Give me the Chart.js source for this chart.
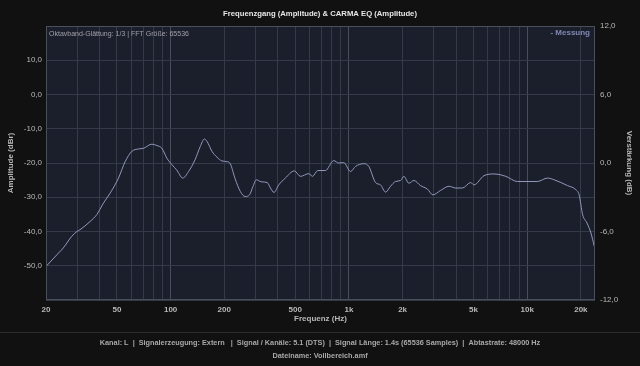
<!DOCTYPE html>
<html>
<head>
<meta charset='utf-8' />
<title>Frequenzgang</title>
<script src="https://cdn.jsdelivr.net/npm/chart.js"></script>
<style>
body { margin:0; padding:0; background:#111111; }
#wrap { width:640px; height:366px; }
</style>
</head>
<body>
<div id="wrap">
  <canvas id="fgChart" width="640" height="366"></canvas>
</div>

<script>

/*************************************************/
/* data                                          */
/*************************************************/

// Frequenz (Hz)
const freqs = [
  20, 23.5, 25, 27.9, 29.8, 31, 35.3, 38.5, 42, 45.8,
  51, 55.6, 60.6, 66, 70.4, 78.5, 83.7, 89.3, 95.3, 101.7,
  108, 117, 126, 137, 146.6, 154.5, 160, 170.6, 182, 194,
  207, 216, 230, 246, 262, 277, 290, 302, 323, 348,
  363, 380, 404, 440, 494, 535, 596, 624, 669, 738,
  822, 877, 936, 1021, 1089, 1214, 1293, 1410, 1505, 1605,
  1712, 1825, 1950, 2033, 2170, 2316, 2520, 2753, 2960, 3268,
  3640, 3970, 4330, 4823, 5025, 5725, 6516, 7584, 8816, 11400,
  13000, 14160, 16830, 18750, 19550, 20460, 21620, 22760, 23770
];

// Messung, Amplitude (dBr)
const messung = [
  -50.2, -46.3, -44.8, -41.4, -40.0, -39.5, -37.1, -35.1, -31.7, -28.8,
  -24.4, -19.6, -16.6, -15.9, -15.7, -14.5, -14.9, -15.7, -18.6, -20.5,
  -22.0, -24.4, -22.5, -19.1, -15.2, -13.0, -13.7, -16.6, -18.3, -19.4,
  -19.6, -20.2, -24.6, -28.3, -29.8, -29.3, -26.8, -24.9, -25.5, -25.7,
  -27.3, -28.6, -26.4, -24.4, -22.3, -23.9, -23.1, -23.9, -22.2, -22.2,
  -19.3, -20.0, -19.9, -22.5, -21.0, -20.2, -21.0, -25.7, -26.4, -28.5,
  -26.8, -25.4, -25.1, -23.9, -25.9, -25.1, -26.6, -27.6, -29.3, -28.0,
  -26.8, -27.3, -27.3, -25.7, -26.4, -23.7, -23.2, -23.9, -25.4, -25.4,
  -24.4, -24.9, -26.6, -27.8, -29.3, -35.1, -37.5, -40.4, -44.3
];

// Gitterlinien der Frequenzachse
const gridFreqs = [
  20, 30, 40, 50, 60, 70, 80, 90,
  100, 200, 300, 400, 500, 600, 700, 800, 900,
  1000, 2000, 3000, 4000, 5000, 6000, 7000, 8000, 9000,
  10000, 20000
];

// beschriftete Frequenzen
const labelFreqs = [20, 50, 100, 200, 500, 1000, 2000, 5000, 10000, 20000];

// Amplitude-Achse (dBr)
const ampTicks = [-60, -50, -40, -30, -20, -10, 0, 10, 20];
const ampLabels = [-50, -40, -30, -20, -10, 0, 10];

// Verstärkung-Achse (dB)
const gainTicks = [-12, -6, 0, 6, 12];

const titleText = 'Frequenzgang (Amplitude) & CARMA EQ (Amplitude)';
const infoText = 'Oktavband-Glättung: 1/3 | FFT Größe: 65536';
const legendText = '- Messung';
const footer1 = 'Kanal: L  |  Signalerzeugung: Extern   |  Signal / Kanäle: 5.1 (DTS)  |  Signal Länge: 1.4s (65536 Samples)  |  Abtastrate: 48000 Hz';
const footer2 = 'Dateiname: Vollbereich.amf';

/*************************************************/
/* styles                                        */
/*************************************************/

const FONT = "'Liberation Sans', Arial, sans-serif";
const textColor = '#b8b8b8';
const gridColor = '#343a48';
const decadeColor = '#474d5a';
const lineColor = '#9298be';
const plotBg = '#1b1f2b';

const fmtNum = v => v.toFixed(1).replace('.', ',');
const fmtFreq = v => v >= 1000 ? (v / 1000) + 'k' : String(v);

/*************************************************/
/* plugins                                       */
/*************************************************/

const decoPlugin = {
  id: 'deco',
  beforeDraw(chart) {
    const { ctx, chartArea: a, width, height } = chart;
    ctx.save();
    ctx.fillStyle = '#111111';
    ctx.fillRect(0, 0, width, height);
    ctx.fillStyle = plotBg;
    ctx.fillRect(a.left, a.top, a.right - a.left, a.bottom - a.top);
    ctx.restore();
  },
  afterDraw(chart) {
    const { ctx, chartArea: a, width } = chart;
    ctx.save();
    // Rahmen
    ctx.strokeStyle = '#4a4f5c';
    ctx.lineWidth = 1;
    ctx.strokeRect(a.left + 0.5, a.top + 0.5, a.right - a.left - 1, a.bottom - a.top - 1);

    // Titel
    ctx.fillStyle = '#e6e6e6';
    ctx.font = 'bold 7.7px ' + FONT;
    ctx.textAlign = 'center';
    ctx.textBaseline = 'middle';
    ctx.fillText(titleText, width / 2, 14);

    // Info oben links
    ctx.fillStyle = '#a0a0a8';
    ctx.font = '7px ' + FONT;
    ctx.textAlign = 'left';
    ctx.fillText(infoText, a.left + 3, 34);

    // Legende
    ctx.fillStyle = '#8088b4';
    ctx.font = 'bold 8px ' + FONT;
    ctx.textAlign = 'right';
    ctx.fillText(legendText, a.right - 5, 33);

    // Achsentitel Frequenz
    ctx.fillStyle = textColor;
    ctx.font = 'bold 8px ' + FONT;
    ctx.textAlign = 'center';
    ctx.fillText('Frequenz (Hz)', (a.left + a.right) / 2, 319);

    // Trennlinie + Fußzeile
    ctx.strokeStyle = '#2c2c2c';
    ctx.beginPath();
    ctx.moveTo(0, 332.5);
    ctx.lineTo(width, 332.5);
    ctx.stroke();
    ctx.fillStyle = '#a8a8a8';
    ctx.font = 'bold 7.3px ' + FONT;
    ctx.fillText(footer1, width / 2, 343);
    ctx.fillText(footer2, width / 2, 356);
    ctx.restore();
  }
};

/*************************************************/
/* chart                                         */
/*************************************************/

const points = freqs.map((f, i) => ({ x: f, y: messung[i] }));

const ctx = document.getElementById('fgChart');

const fgChart = new Chart(ctx, {
  type: 'line',
  data: {
    datasets: [{
      label: 'Messung',
      data: points,
      borderColor: lineColor,
      borderWidth: 1,
      pointRadius: 0,
      cubicInterpolationMode: 'monotone',
      yAxisID: 'y'
    }]
  },
  options: {
    responsive: false,
    animation: false,
    devicePixelRatio: 1,
    layout: { padding: { top: 26, bottom: 40, left: 0, right: 0 } },
    plugins: {
      legend: { display: false },
      title: { display: false },
      tooltip: { enabled: false }
    },
    scales: {
      x: {
        type: 'logarithmic',
        min: 20,
        max: 24000,
        afterBuildTicks: s => { s.ticks = gridFreqs.map(v => ({ value: v })); },
        afterFit: s => { s.height = 26; },
        border: { display: false },
        grid: {
          drawTicks: false,
          color: c => [100, 1000, 10000].includes(c.tick && c.tick.value) ? decadeColor : gridColor
        },
        ticks: {
          autoSkip: false,
          maxRotation: 0,
          padding: 5,
          color: textColor,
          font: { family: FONT, size: 8, weight: 'bold' },
          callback: v => labelFreqs.includes(v) ? fmtFreq(v) : ''
        }
      },
      y: {
        type: 'linear',
        position: 'left',
        min: -60,
        max: 20,
        afterBuildTicks: s => { s.ticks = ampTicks.map(v => ({ value: v })); },
        afterFit: s => { s.width = 46; },
        border: { display: false },
        grid: { drawTicks: false, color: gridColor },
        ticks: {
          padding: 4,
          color: textColor,
          font: { family: FONT, size: 8 },
          callback: v => ampLabels.includes(v) ? fmtNum(v) : ''
        },
        title: {
          display: true,
          text: 'Amplitude (dBr)',
          color: textColor,
          font: { family: FONT, size: 8, weight: 'bold' },
          padding: { top: 6, bottom: 0 }
        }
      },
      y2: {
        type: 'linear',
        position: 'right',
        min: -12,
        max: 12,
        afterBuildTicks: s => { s.ticks = gainTicks.map(v => ({ value: v })); },
        afterFit: s => { s.width = 45; },
        border: { display: false },
        grid: { display: false, drawTicks: false },
        ticks: {
          padding: 5,
          color: textColor,
          font: { family: FONT, size: 8 },
          callback: v => fmtNum(v)
        },
        title: {
          display: true,
          text: 'Verstärkung (dB)',
          color: textColor,
          font: { family: FONT, size: 8, weight: 'bold' },
          padding: { top: 6, bottom: 0 }
        }
      }
    }
  },
  plugins: [decoPlugin]
});

</script>
</body>
</html>
